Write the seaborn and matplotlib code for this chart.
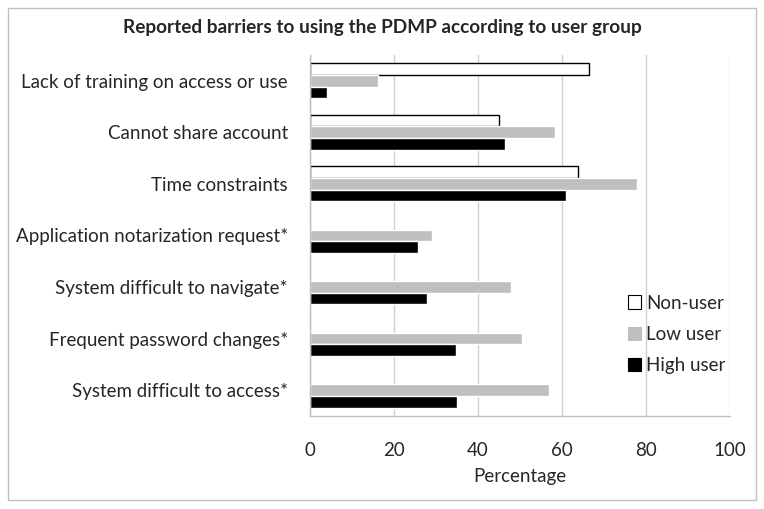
import matplotlib
matplotlib.use("Agg")
import matplotlib.pyplot as plt
import numpy as np
import pandas as pd
import seaborn as sns
from matplotlib.patches import Patch, Rectangle

barriers = [
    "Lack of training on access or use",
    "Cannot share account",
    "Time constraints",
    "Application notarization request*",
    "System difficult to navigate*",
    "Frequent password changes*",
    "System difficult to access*",
]
groups = ["Non-user", "Low user", "High user"]
non_user = [66.4, 45.0, 63.8, np.nan, np.nan, np.nan, np.nan]
low_user = [16.2, 58.3, 77.9, 29.0, 47.9, 50.5, 56.9]
high_user = [4.0, 46.4, 61.0, 25.7, 27.9, 34.8, 35.0]

df = pd.DataFrame({
    "barrier": barriers * 3,
    "group": [g for g in groups for _ in barriers],
    "pct": non_user + low_user + high_user,
})

sns.set_style("white")
plt.rcParams["font.family"] = ["Lato", "DejaVu Sans"]

fig = plt.figure(figsize=(7.64, 5.09), dpi=100)
ax = fig.add_axes([0.4058, 0.183, 0.5497, 0.709])

palette = {"Non-user": "white", "Low user": "#bfbfbf", "High user": "black"}
sns.barplot(data=df, y="barrier", x="pct", hue="group", order=barriers,
            hue_order=groups, palette=palette, orient="h", width=0.68,
            saturation=1, ax=ax, legend=False)

# outline the white bars
for bar in ax.containers[0]:
    bar.set_edgecolor("black")
    bar.set_linewidth(1.0)

ax.set_xlim(0, 100)
ax.set_ylim(len(barriers) - 0.5, -0.5)
ax.set_xticks(np.arange(0, 101, 20))
ax.xaxis.grid(True, color="#d0d0d0", linewidth=1)
ax.set_axisbelow(True)
for side in ["top", "right"]:
    ax.spines[side].set_visible(False)
for side in ["left", "bottom"]:
    ax.spines[side].set_color("#bfbfbf")
    ax.spines[side].set_linewidth(1)

ax.set_yticks(np.arange(len(barriers)))
ax.set_yticklabels(barriers, fontsize=13.5)
ax.set_yticks(np.arange(-0.5, len(barriers)), minor=True)
ax.tick_params(axis="y", which="major", length=0, pad=16)
ax.tick_params(axis="y", which="minor", length=5, color="#bfbfbf", direction="out")
ax.tick_params(axis="x", length=5, color="#bfbfbf", labelsize=13.5, pad=14, direction="out")
ax.set_xlabel("Percentage", fontsize=13.5, labelpad=6)
ax.set_ylabel("")

handles = [Patch(facecolor=palette[g], edgecolor="black" if g == "Non-user" else palette[g],
                 linewidth=0.8) for g in groups]
ax.legend(handles, groups, loc="lower right", bbox_to_anchor=(1.03, 0.07), frameon=False,
          fontsize=13.5, handlelength=0.7, handleheight=0.7, handletextpad=0.3,
          labelspacing=0.75)

fig.text(0.5, 0.945, "Reported barriers to using the PDMP according to user group",
         ha="center", va="center", fontsize=13.7, fontweight="bold")

fig.patches.append(Rectangle((0.011, 0.017), 0.978, 0.967, transform=fig.transFigure,
                             fill=False, edgecolor="#bfbfbf", linewidth=1))

fig.savefig("out.png", dpi=100)
